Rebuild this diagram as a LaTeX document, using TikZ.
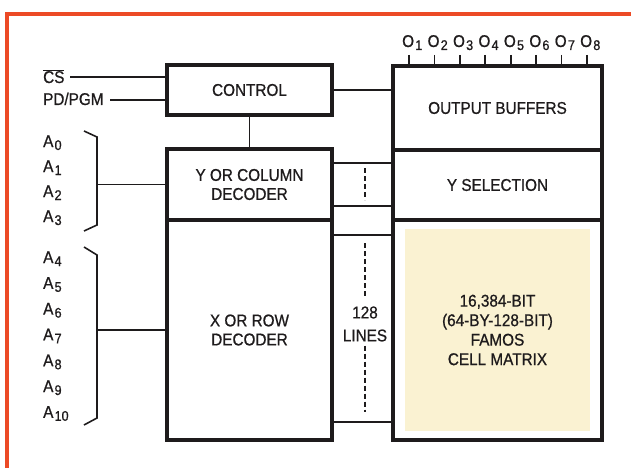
\documentclass[tikz,border=0pt]{standalone}
\usepackage{fontspec}
\setmainfont{Liberation Sans}[FakeStretch=0.9, FakeBold=0.8]
\usetikzlibrary{positioning,calc}
\definecolor{ink}{HTML}{1E1B1C}
\definecolor{frame}{HTML}{EC4A26}
\definecolor{cream}{HTML}{FAF2D2}
\newcommand{\ix}[1]{\kern1.2pt\raisebox{-3pt}{\fontsize{14}{14}\selectfont #1}}
\tikzset{
  box/.style={draw=ink, line width=3.5pt, minimum width=165pt, align=center, inner sep=0pt, outer sep=0pt, text=ink, font=\fontsize{17}{19}\selectfont},
  wire/.style={draw=ink, line width=1.6pt},
  dots/.style={wire, dash pattern=on 5pt off 3pt},
  lbl/.style={anchor=base west, inner sep=0pt, text=ink, font=\fontsize{17}{19}\selectfont}
}

\begin{document}
\begin{tikzpicture}[x=1pt, y=-1pt]
  \useasboundingbox (0,0) rectangle (631,468);
  \draw[frame, line width=4pt] (631,14) -- (7,14) -- (7,468);

  % left column
  \node[box, minimum height=50pt] (control) at (249.5,90) {CONTROL};
  \node[box, minimum height=71pt] (ydec) at (249.5,184.5) {Y OR COLUMN\\DECODER};
  \node[box, minimum height=220pt] (xdec) at (249.5,330) {X OR ROW\\DECODER};

  % right column
  \node[box, minimum width=209pt, minimum height=84pt] (outbuf) at (497.5,108) {OUTPUT BUFFERS};
  \node[box, minimum width=209pt, minimum height=70pt] (ysel) at (497.5,185) {Y SELECTION};
  \node[box, minimum width=209pt, minimum height=220pt] (cells) at (497.5,330) {};
  \node[fill=cream, minimum width=185pt, minimum height=202pt, align=center, text=ink,
        font=\fontsize{17}{19.5}\selectfont] (famos) at (cells) {16,384-BIT\\(64-BY-128-BIT)\\FAMOS\\CELL MATRIX};

  % control inputs
  \node[lbl] (cs) at (43,83) {$\overline{\hbox{CS}}$};
  \node[lbl] (pd) at (43,105) {PD/PGM};
  \coordinate (csend) at (70,77);
  \coordinate (pdend) at (110,100);
  \draw[wire] (csend) -- (csend -| control.west);
  \draw[wire] (pdend) -- (pdend -| control.west);
  \draw[wire] (control) -- (ydec);
  \draw[wire] (control.east) -- (control.east -| outbuf.west);

  % address inputs
  \foreach \i [evaluate=\i as \yy using 147+25*\i] in {0,...,3}
    \node[lbl] (a\i) at (43,\yy) {A\ix{\i}};
  \foreach \i [evaluate=\i as \yy using 263+25.8*(\i-4)] in {4,...,10}
    \node[lbl] (a\i) at (43,\yy) {A\ix{\i}};
  \draw[wire] (84,131) -- (97,137) -- (97,225) -- (84,231);
  \draw[wire] (84,247) -- (97,255) -- (97,418) -- (84,425);
  \coordinate (ybus) at (97,184.5);
  \coordinate (xbus) at (97,330);
  \draw[wire] (ybus) -- (ydec.west);
  \draw[wire] (xbus) -- (xdec.west);

  % buses between the columns
  \draw[wire] ([yshift=21.5pt]ydec.east) -- ([yshift=21.5pt]ydec.east -| ysel.west);
  \draw[wire] ([yshift=-21.5pt]ydec.east) -- ([yshift=-21.5pt]ydec.east -| ysel.west);
  \draw[wire] ([yshift=95pt]xdec.east) -- ([yshift=95pt]xdec.east -| cells.west);
  \draw[wire] ([yshift=-92pt]xdec.east) -- ([yshift=-92pt]xdec.east -| cells.west);
  \coordinate (ytop) at (365,168);
  \coordinate (ybot) at (365,200);
  \draw[dots] (ytop) -- (ybot);
  \node[lbl, anchor=center, align=center, font=\fontsize{17}{23}\selectfont] (lines) at (365,324) {128\\LINES};
  \coordinate (xtop) at (365,243);
  \coordinate (xbot) at (365,412);
  \draw[dots] (xtop) -- ([yshift=10pt]lines.north);
  \draw[dots] ([yshift=-4pt]lines.south) -- (xbot);

  % outputs
  \foreach \i [evaluate=\i as \xx using 409+25.43*(\i-1)] in {1,...,8} {
    \coordinate (p\i) at (\xx,55);
    \draw[wire] (p\i) -- (p\i |- outbuf.north);
    \node[lbl] (o\i) at (\xx-7,47) {O\ix{\i}};
  }
\end{tikzpicture}
\end{document}
